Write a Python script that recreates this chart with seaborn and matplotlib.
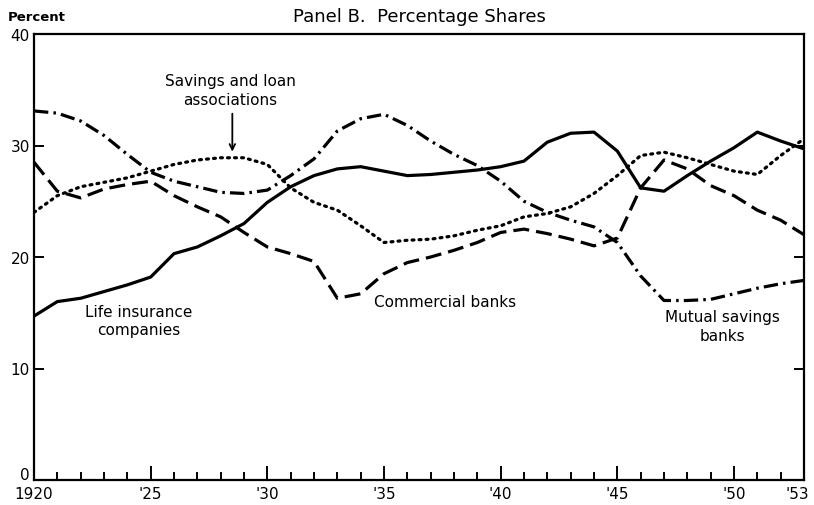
""" Panel B: percentage shares of savings held by four institution types """
import matplotlib

matplotlib.use("Agg")
import matplotlib.pyplot as plt
from matplotlib.transforms import ScaledTranslation
import seaborn as sns

years = list(range(1920, 1954))

life_insurance = [14.7, 16.0, 16.3, 16.9, 17.5, 18.2, 20.3, 20.9, 21.9, 23.0,
                  24.9, 26.3, 27.3, 27.9, 28.1, 27.7, 27.3, 27.4, 27.6, 27.8,
                  28.1, 28.6, 30.3, 31.1, 31.2, 29.5, 26.2, 25.9, 27.3, 28.6,
                  29.8, 31.2, 30.4, 29.7]
commercial_banks = [28.5, 25.9, 25.3, 26.1, 26.5, 26.8, 25.5, 24.5, 23.6, 22.2,
                    20.9, 20.3, 19.6, 16.3, 16.7, 18.5, 19.5, 20.0, 20.6, 21.3,
                    22.2, 22.5, 22.1, 21.6, 21.0, 21.7, 26.2, 28.7, 27.9, 26.4,
                    25.5, 24.2, 23.3, 22.0]
savings_loan = [24.0, 25.5, 26.3, 26.7, 27.1, 27.7, 28.3, 28.7, 28.9, 28.9,
                28.3, 26.2, 24.9, 24.2, 22.8, 21.3, 21.5, 21.6, 21.9, 22.4,
                22.8, 23.6, 23.9, 24.5, 25.7, 27.3, 29.1, 29.4, 28.9, 28.3,
                27.7, 27.4, 29.1, 30.6]
mutual_savings = [33.1, 32.9, 32.2, 30.9, 29.2, 27.6, 26.8, 26.3, 25.8, 25.7,
                  26.0, 27.3, 28.8, 31.3, 32.4, 32.8, 31.8, 30.4, 29.2, 28.2,
                  26.8, 25.0, 24.0, 23.3, 22.7, 21.3, 18.3, 16.1, 16.1, 16.2,
                  16.7, 17.2, 17.6, 17.9]

x_ticks = [1920, 1925, 1930, 1935, 1940, 1945, 1950, 1953]
x_labels = ["1920", "'25", "'30", "'35", "'40", "'45", "'50", "'53"]
y_ticks = [0, 10, 20, 30, 40]

sns.set_style("ticks")
plt.rcParams["font.family"] = ["DejaVu Sans"]
plt.rcParams["text.color"] = "black"
plt.rcParams["xtick.color"] = "black"
plt.rcParams["ytick.color"] = "black"

fig = plt.figure(figsize=(8.14, 5.06), dpi=100)
ax = fig.add_axes([34 / 814, 25 / 506, 770 / 814, 446 / 506])

lw = 2.3
sns.lineplot(x=years, y=life_insurance, ax=ax, color="black", lw=lw)
sns.lineplot(x=years, y=commercial_banks, ax=ax, color="black", lw=lw,
             linestyle=(0, (5, 2.2)))
sns.lineplot(x=years, y=savings_loan, ax=ax, color="black", lw=lw,
             linestyle=(0, (0.6, 1.6)), dash_capstyle="round")
sns.lineplot(x=years, y=mutual_savings, ax=ax, color="black", lw=lw,
             linestyle=(0, (4.5, 1.6, 0.8, 1.6)))

ax.set_xlim(1920, 1953)
ax.set_ylim(0, 40)

for side in ["left", "right", "top", "bottom"]:
    ax.spines[side].set_visible(True)
    ax.spines[side].set_linewidth(1.6)
    ax.spines[side].set_color("black")

ax.set_xticks(x_ticks)
ax.set_xticklabels(x_labels)
ax.set_xticks(years, minor=True)
ax.set_yticks(y_ticks)
ax.tick_params(axis="x", which="major", direction="in", length=10, width=1.4,
               labelsize=11, pad=4)
ax.tick_params(axis="x", which="minor", direction="in", length=6, width=1.4)
ax.tick_params(axis="y", which="major", direction="in", length=7, width=1.4,
               labelsize=11, pad=3, right=True)


def nudge(label, dx, dy):
    # shift a tick label by dx, dy points
    label.set_transform(label.get_transform()
                        + ScaledTranslation(dx / 72, dy / 72, fig.dpi_scale_trans))


# lift the "0" so it clears the "1920", pull "'53" inside the figure edge
nudge(ax.get_yticklabels()[0], 0, 5)
nudge(ax.get_xticklabels()[-1], -5, 0)

ax.set_title("Panel B.  Percentage Shares", fontsize=13, pad=9)
ax.text(-0.034, 1.025, "Percent", transform=ax.transAxes, fontsize=9.5,
        ha="left", va="bottom", fontweight="bold")

note = dict(fontsize=11, ha="center", va="center", linespacing=1.3)
ax.text(1928.4, 35.0, "Savings and loan\nassociations", **note)
ax.annotate("", xy=(1928.5, 29.2), xytext=(1928.5, 33.1),
            arrowprops=dict(arrowstyle="->", color="black", lw=1.3))
ax.text(1924.5, 14.3, "Life insurance\ncompanies", **note)
ax.text(1937.6, 16.05, "Commercial banks", **note)
ax.text(1949.5, 13.8, "Mutual savings\nbanks", **note)

fig.savefig("out.png", dpi=100)
